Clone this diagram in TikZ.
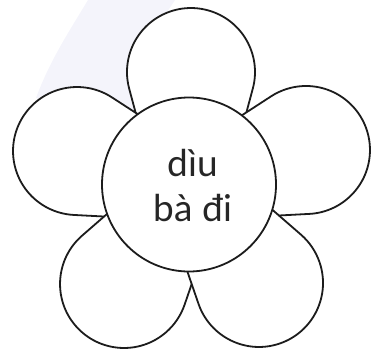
\documentclass[tikz,border=0pt]{standalone}
\usepackage{fontspec}
\setmainfont{Lato}
\definecolor{band}{HTML}{F4F4FB}
\definecolor{ink}{HTML}{1C1C1C}
\definecolor{txt}{HTML}{262626}
\begin{document}
\begin{tikzpicture}[x=1pt,y=-1pt,
  petal/.style={draw=ink,line width=1.8pt,fill=white},
  heart/.style={circle,draw=ink,line width=1.8pt,fill=white,minimum size=174pt,inner sep=0pt}]
\useasboundingbox (0,0) rectangle (382,353);
\fill[band] (88,0) .. controls (70,30) and (50,60) .. (36,98) -- (140,130) -- (135,60) -- (175,0) -- cycle;
\foreach \px/\py/\rot in {191/72/0, 77/151/72, 306/150/-72, 124/284/146, 259/283/-146}{
  \begin{scope}[shift={(\px,\py)},rotate=\rot]
    \draw[petal] (61.8,16.6) arc[start angle=15,end angle=-195,radius=64]
      -- (-41.1,93.9) -- (41.1,93.9) -- cycle;
  \end{scope}
}
\node[heart] (h) at (189,184.5) {};
\node[font=\fontsize{37}{45}\selectfont,text=txt,align=center] (t) at (193,186) {dìu\\bà đi};
\end{tikzpicture}
\end{document}
